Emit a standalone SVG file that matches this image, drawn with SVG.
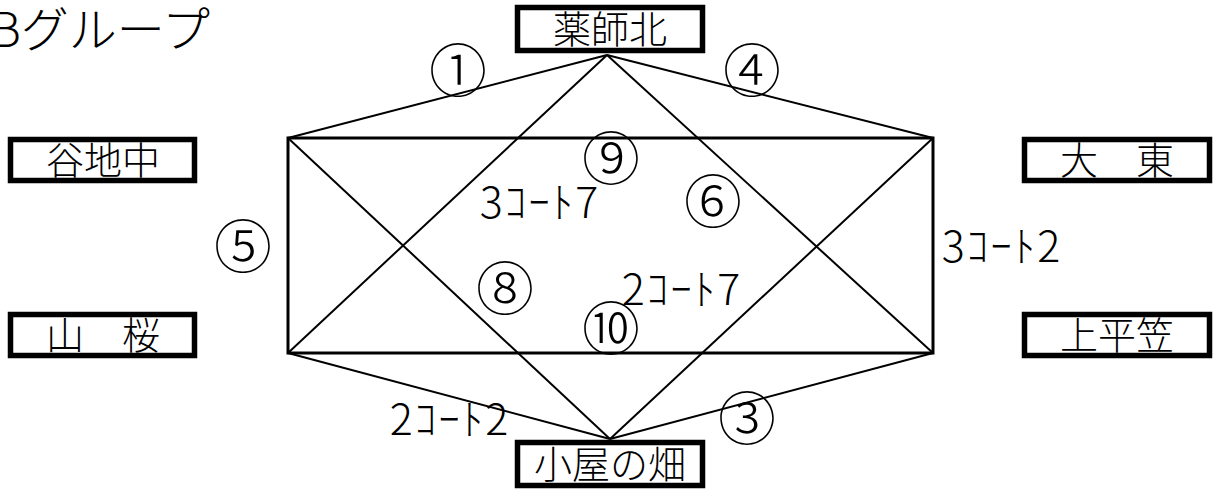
<svg xmlns="http://www.w3.org/2000/svg" width="1219" height="494" viewBox="0 0 1219 494">
<style>
.box{fill:#fff;stroke:#000;stroke-width:5.5}
.nt{font-family:"Noto Sans CJK JP","Noto Sans",sans-serif;font-size:38px;font-weight:300;text-anchor:middle;fill:#000}
.lb{font-family:"Noto Sans CJK JP","Noto Sans",sans-serif;font-size:43px;font-weight:300;letter-spacing:2px;text-anchor:middle;fill:#000}
.cn{font-family:"Noto Sans CJK JP","Noto Sans",sans-serif;font-size:58px;font-weight:300;text-anchor:middle;fill:#000}
.ln{stroke:#000;stroke-width:2;fill:none}
</style>
<rect width="1219" height="494" fill="#fff"/>
<text x="-10" y="47" font-family="Noto Sans CJK JP, sans-serif" font-size="48" font-weight="300">Bグループ</text>
<g id="connectors">
<rect x="288" y="138" width="645" height="215" fill="none" stroke="#000" stroke-width="3"/>
<line class="ln" x1="607" y1="55" x2="288" y2="138"/>
<line class="ln" x1="607" y1="55" x2="933" y2="138"/>
<line class="ln" x1="607" y1="55" x2="288" y2="353"/>
<line class="ln" x1="607" y1="55" x2="933" y2="353"/>
<line class="ln" x1="610" y1="439" x2="288" y2="138"/>
<line class="ln" x1="610" y1="439" x2="933" y2="138"/>
<line class="ln" x1="610" y1="439" x2="288" y2="353"/>
<line class="ln" x1="610" y1="439" x2="933" y2="353"/>
</g>
<g id="n-yakushikita"><rect class="box" x="517.5" y="7.5" width="185" height="43"/><text class="nt" x="610" y="43">薬師北</text></g>
<g id="n-yachinaka"><rect class="box" x="10.5" y="139.5" width="184" height="41"/><text class="nt" x="103" y="174">谷地中</text></g>
<g id="n-yamazakura"><rect class="box" x="10.5" y="314.5" width="184" height="41"/><text class="nt" x="103" y="349">山　桜</text></g>
<g id="n-daito"><rect class="box" x="1024.5" y="139.5" width="185" height="41"/><text class="nt" x="1117" y="174">大　東</text></g>
<g id="n-kamihiragasa"><rect class="box" x="1024.5" y="314.5" width="185" height="41"/><text class="nt" x="1117" y="349">上平笠</text></g>
<g id="n-koyanohata"><rect class="box" x="517.5" y="442.5" width="185" height="43"/><text class="nt" x="610" y="478">小屋の畑</text></g>
<g id="labels">
<text class="cn" x="458" y="92">①</text>
<text class="cn" x="752" y="92">④</text>
<text class="cn" x="611" y="180">⑨</text>
<text class="cn" x="713" y="223">⑥</text>
<text class="cn" x="505" y="310">⑧</text>
<text class="cn" x="611" y="350">⑩</text>
<text class="cn" x="243" y="268">⑤</text>
<text class="cn" x="747" y="440">③</text>
<text class="lb" x="540" y="218">3ｺｰﾄ7</text>
<text class="lb" x="682" y="305">2ｺｰﾄ7</text>
<text class="lb" x="1002" y="262">3ｺｰﾄ2</text>
<text class="lb" x="450" y="435">2ｺｰﾄ2</text>
</g>
</svg>
